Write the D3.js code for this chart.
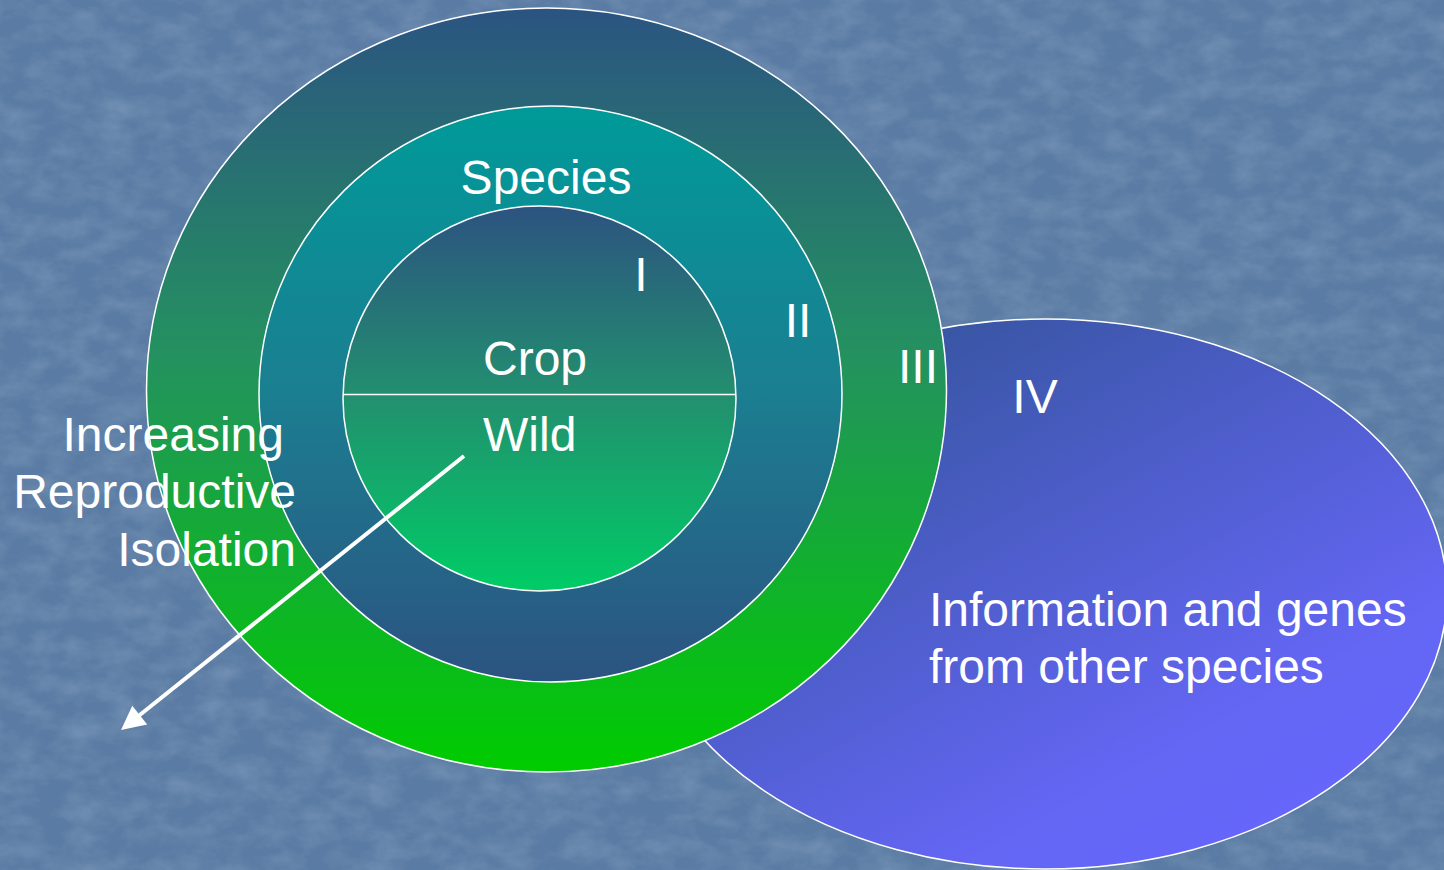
<!DOCTYPE html>
<html>
<head>
<meta charset="utf-8">
<script src="https://cdnjs.cloudflare.com/ajax/libs/d3/7.8.5/d3.min.js"></script>
<style>
  html, body { margin: 0; padding: 0; background: #5a7ca4; overflow: hidden; }
  svg { display: block; font-family: "Liberation Sans", Arial, sans-serif; }
</style>
</head>
<body>
<div id="diagram"></div>
<script>
// labels for the gene pool diagram
var poolNames = ["I", "II", "III", "IV"];
var coreLabels = ["Crop", "Wild"];
var ringTitle = ["Species"];
var arrowLabel = ["Increasing", "Reproductive", "Isolation"];
var outsideLabel = ["Information and genes", "from other species"];

var width = 1444;
var height = 870;

var svg = d3.select("#diagram").append("svg")
  .attr("width", width)
  .attr("height", height);

var defs = svg.append("defs");

// background texture
var tex = defs.append("filter").attr("id", "tex")
  .attr("x", 0).attr("y", 0).attr("width", "100%").attr("height", "100%");
tex.append("feTurbulence")
  .attr("type", "fractalNoise")
  .attr("baseFrequency", "0.03 0.05")
  .attr("numOctaves", 4)
  .attr("seed", 3)
  .attr("result", "noise");
tex.append("feColorMatrix")
  .attr("in", "noise")
  .attr("type", "matrix")
  .attr("values", "0 0 0 0 0.72  0 0 0 0 0.82  0 0 0 0 0.95  0 0 0 -1.2 0.8");

svg.append("rect").attr("width", width).attr("height", height).attr("fill", "#5a7ba3");
svg.append("rect").attr("width", width).attr("height", height)
  .attr("filter", "url(#tex)").attr("opacity", 0.25);

// gradients
function vGrad(id, stops) {
  var g = defs.append("linearGradient").attr("id", id)
    .attr("x1", 0).attr("y1", 0).attr("x2", 0).attr("y2", 1);
  stops.forEach(function(s) {
    g.append("stop").attr("offset", s[0]).attr("stop-color", s[1]);
  });
}
vGrad("g3", [[0, "#2b5481"], [0.45, "#249160"], [1, "#00cc00"]]);
vGrad("g2", [[0, "#009a99"], [0.5, "#1b7e91"], [1, "#2c5381"]]);
vGrad("g1", [[0, "#2c5380"], [0.5, "#22906f"], [1, "#00cc66"]]);

var g4 = defs.append("linearGradient").attr("id", "g4")
  .attr("x1", 0.1).attr("y1", 0).attr("x2", 0.9).attr("y2", 1);
g4.append("stop").attr("offset", 0).attr("stop-color", "#2f5292");
g4.append("stop").attr("offset", 0.75).attr("stop-color", "#6466f4");
g4.append("stop").attr("offset", 1).attr("stop-color", "#6666ff");

// pool shapes, largest first so smaller ones sit on top
var pools = [
  {name: poolNames[3], cx: 1045, cy: 594, rx: 402, ry: 275, fill: "url(#g4)"},
  {name: poolNames[2], cx: 546.5, cy: 390, rx: 400, ry: 382, fill: "url(#g3)"},
  {name: poolNames[1], cx: 550.5, cy: 394, rx: 291.5, ry: 288, fill: "url(#g2)"},
  {name: poolNames[0], cx: 539.5, cy: 398.5, rx: 196.5, ry: 192.5, fill: "url(#g1)"}
];

svg.selectAll("ellipse.pool")
  .data(pools)
  .enter().append("ellipse")
  .attr("class", "pool")
  .attr("cx", function(d) { return d.cx; })
  .attr("cy", function(d) { return d.cy; })
  .attr("rx", function(d) { return d.rx; })
  .attr("ry", function(d) { return d.ry; })
  .attr("fill", function(d) { return d.fill; })
  .attr("stroke", "#ffffff")
  .attr("stroke-width", 1.5);

// crop / wild divider
var core = pools[3];
svg.append("line")
  .attr("x1", core.cx - core.rx).attr("x2", core.cx + core.rx)
  .attr("y1", 394.5).attr("y2", 394.5)
  .attr("stroke", "#ffffff")
  .attr("stroke-width", 1.5);

// arrow
defs.append("marker").attr("id", "head")
  .attr("viewBox", "0 0 10 10")
  .attr("refX", 2).attr("refY", 5)
  .attr("markerWidth", 7).attr("markerHeight", 6)
  .attr("markerUnits", "strokeWidth")
  .attr("orient", "auto")
  .append("path").attr("d", "M0,0L10,5L0,10z").attr("fill", "#ffffff");

svg.append("line")
  .attr("x1", 464).attr("y1", 456)
  .attr("x2", 136).attr("y2", 718)
  .attr("stroke", "#ffffff")
  .attr("stroke-width", 4)
  .attr("marker-end", "url(#head)");

// text
function label(txt, x, y, anchor) {
  svg.append("text")
    .attr("x", x).attr("y", y)
    .attr("text-anchor", anchor)
    .attr("fill", "#ffffff")
    .style("font-size", "48px")
    .text(txt);
}

label(ringTitle[0], 546, 194, "middle");
label(poolNames[0], 641, 291, "middle");
label(poolNames[1], 798, 337, "middle");
label(poolNames[2], 918, 383, "middle");
label(poolNames[3], 1035, 413, "middle");
label(coreLabels[0], 483, 375, "start");
label(coreLabels[1], 483, 451, "start");
label(arrowLabel[0], 284, 451, "end");
label(arrowLabel[1], 296, 508, "end");
label(arrowLabel[2], 296, 566, "end");
label(outsideLabel[0], 929, 626, "start");
label(outsideLabel[1], 929, 683, "start");
</script>
</body>
</html>
